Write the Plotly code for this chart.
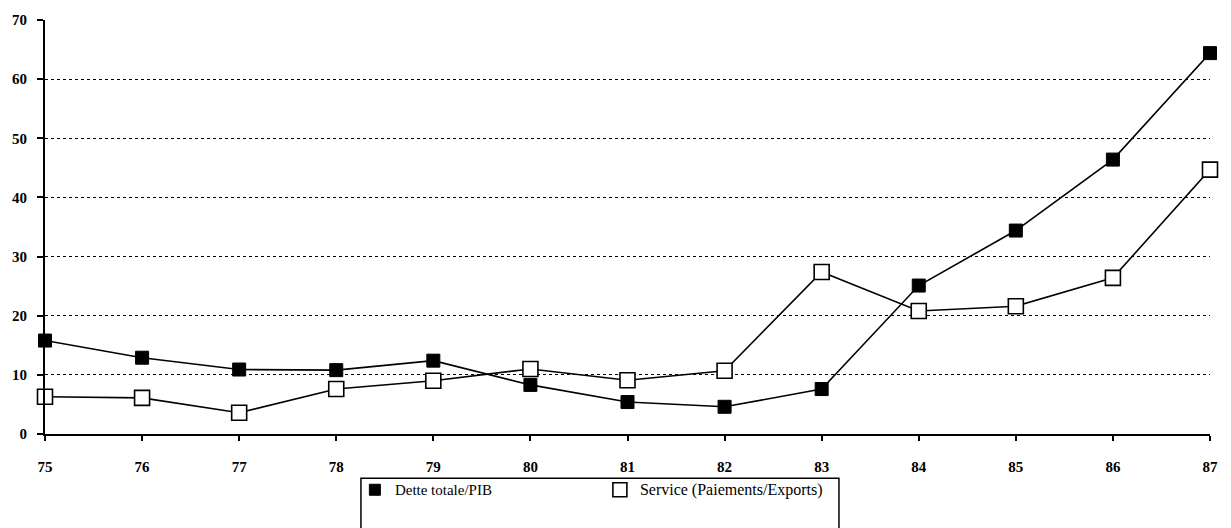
import plotly.graph_objects as go

# Years (axis labels are two-digit)
years = [75, 76, 77, 78, 79, 80, 81, 82, 83, 84, 85, 86, 87]
year_labels = ["75", "76", "77", "78", "79", "80", "81", "82", "83", "84", "85", "86", "87"]

# Series values (%)
dette_pib = [15.8, 12.9, 10.9, 10.8, 12.4, 8.3, 5.4, 4.6, 7.6, 25.1, 34.4, 46.4, 64.4]
service_exports = [6.3, 6.1, 3.6, 7.6, 9.0, 11.0, 9.1, 10.7, 27.4, 20.8, 21.6, 26.4, 44.7]

y_ticks = [0, 10, 20, 30, 40, 50, 60, 70]
y_tick_labels = ["0", "10", "20", "30", "40", "50", "60", "70"]

serif = "Liberation Serif, Times New Roman, serif"

fig = go.Figure()

fig.add_trace(go.Scatter(
    x=years, y=dette_pib, mode="lines+markers", showlegend=False,
    line=dict(color="black", width=1.6),
    marker=dict(symbol="square", size=13, color="black",
                line=dict(color="black", width=1)),
    cliponaxis=False,
))
fig.add_trace(go.Scatter(
    x=years, y=service_exports, mode="lines+markers", showlegend=False,
    line=dict(color="black", width=1.6),
    marker=dict(symbol="square", size=15, color="white",
                line=dict(color="black", width=1.6)),
    cliponaxis=False,
))

# Legend entries (marker only)
fig.add_trace(go.Scatter(
    x=[None], y=[None], mode="markers",
    name="<span style='font-size:15px'>Dette totale/PIB</span>",
    marker=dict(symbol="square", size=11, color="black",
                line=dict(color="black", width=1)),
))
fig.add_trace(go.Scatter(
    x=[None], y=[None], mode="markers",
    name="<span style='font-size:16px'>Service (Paiements/Exports)</span>",
    marker=dict(symbol="square", size=14, color="white",
                line=dict(color="black", width=1.6)),
))

# Legend frame
fig.add_shape(type="rect", xref="paper", yref="paper",
              x0=0.2712, x1=0.6815, y0=-0.26, y1=-0.1071,
              line=dict(color="black", width=1.5), fillcolor="rgba(0,0,0,0)")

fig.update_layout(
    width=1231, height=528,
    margin=dict(l=45, r=21, t=14, b=94),
    paper_bgcolor="white", plot_bgcolor="white",
    font=dict(family=serif, size=13, color="black"),
    legend=dict(
        orientation="h", x=0.266, y=-0.097, xanchor="left", yanchor="top",
        bgcolor="rgba(0,0,0,0)", borderwidth=0,
        entrywidth=200, entrywidthmode="pixels",
        font=dict(family=serif, size=14, color="black"),
        itemsizing="trace",
    ),
    xaxis=dict(
        range=[75, 87], tickmode="array", tickvals=years, ticktext=year_labels,
        showgrid=False, zeroline=False,
        showline=True, linecolor="black", linewidth=2,
        ticks="outside", ticklen=5, tickwidth=1.5, tickcolor="black",
        ticklabelstandoff=13,
        tickfont=dict(family=serif, size=15, color="black", weight="bold"),
    ),
    yaxis=dict(
        range=[0, 70], tickmode="array", tickvals=y_ticks, ticktext=y_tick_labels,
        showgrid=True, gridcolor="black", gridwidth=1.3, griddash="dot",
        zeroline=False,
        showline=True, linecolor="black", linewidth=2,
        ticks="outside", ticklen=6, tickwidth=1.5, tickcolor="black",
        ticklabelstandoff=7,
        tickfont=dict(family=serif, size=15, color="black", weight="bold"),
    ),
)

fig.write_html("out.html")
